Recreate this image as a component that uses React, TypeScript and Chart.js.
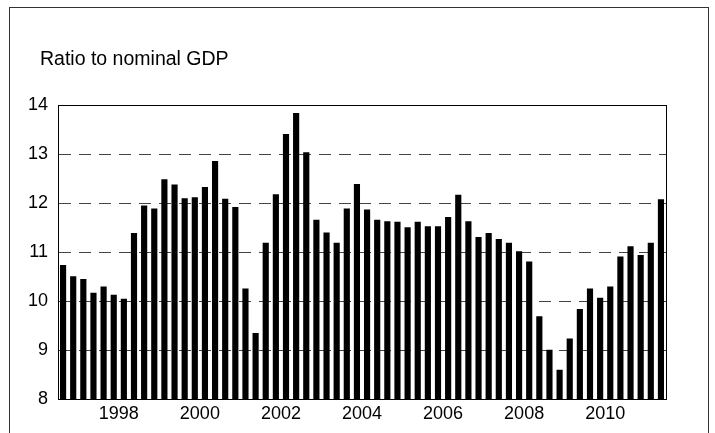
import React, { useEffect, useRef } from "react";
import { Chart, registerables } from "chart.js";

Chart.register(...registerables);

// Quarterly data, 1997Q1 .. 2011Q4
const startYear = 1997;
const values: number[] = [
  10.73, 10.5, 10.44, 10.16, 10.29, 10.12, 10.04, 11.38,
  11.94, 11.88, 12.48, 12.37, 12.09, 12.11, 12.32, 12.85,
  12.08, 11.91, 10.25, 9.34, 11.18, 12.17, 13.4, 13.83,
  13.03, 11.65, 11.39, 11.18, 11.88, 12.38, 11.86, 11.65,
  11.62, 11.61, 11.5, 11.61, 11.52, 11.52, 11.71, 12.16,
  11.62, 11.3, 11.38, 11.26, 11.18, 11.01, 10.8, 9.68,
  9.0, 8.59, 9.23, 9.83, 10.25, 10.06, 10.29, 10.9,
  11.11, 10.93, 11.18, 12.07,
];
const yearLabels: number[] = [1998, 2000, 2002, 2004, 2006, 2008, 2010];
const yTicks: number[] = [8, 9, 10, 11, 12, 13, 14];
const yAxisTitle = "Ratio to nominal GDP";

const FONT = "'Liberation Sans', Arial, sans-serif";

export default function App() {
  const ref = useRef<HTMLCanvasElement | null>(null);

  useEffect(() => {
    if (!ref.current) return;
    const framePlugin = {
      id: "frame",
      afterDatasetsDraw(chart: any) {
        const { ctx, chartArea } = chart;
        ctx.save();
        ctx.strokeStyle = "#000";
        ctx.lineWidth = 1;
        ctx.strokeRect(
          Math.round(chartArea.left) + 0.5,
          Math.round(chartArea.top) + 0.5,
          Math.round(chartArea.right - chartArea.left),
          Math.round(chartArea.bottom - chartArea.top)
        );
        ctx.restore();
      },
    };
    const chart = new Chart(ref.current, {
      type: "bar",
      data: {
        datasets: [
          {
            data: values.map((v, i) => ({ x: i, y: v })),
            backgroundColor: "#000",
            borderWidth: 0,
            barThickness: 5.5,
          },
        ],
      },
      options: {
        animation: false,
        responsive: false,
        maintainAspectRatio: false,
        layout: { padding: { top: 105, right: 49, left: 0, bottom: 0 } },
        plugins: {
          legend: { display: false },
          tooltip: { enabled: false },
          title: { display: false },
        },
        scales: {
          x: {
            type: "linear",
            offset: false,
            min: -0.5,
            max: values.length - 0.5,
            grid: { display: false, drawTicks: false, offset: false },
            border: { display: true, color: "#000" },
            afterBuildTicks: (s: any) => {
              s.ticks = yearLabels.map((y) => ({
                value: (y - startYear) * 4 + 1.5,
              }));
            },
            afterFit: (s: any) => {
              s.height = 34;
            },
            ticks: {
              autoSkip: false,
              maxRotation: 0,
              padding: 4,
              color: "#000",
              font: { family: FONT, size: 18 },
              callback: (v: any) =>
                String(Math.round(startYear + (Number(v) - 1.5) / 4)),
            },
          },
          y: {
            type: "linear",
            min: 8,
            max: 14,
            afterBuildTicks: (s: any) => {
              s.ticks = yTicks.map((v) => ({ value: v }));
            },
            afterFit: (s: any) => {
              s.width = 58;
            },
            grid: {
              color: "#444",
              lineWidth: 1,
              drawTicks: false,
            },
            border: { display: true, color: "#000", dash: [12, 8] },
            ticks: {
              padding: 10,
              color: "#000",
              font: { family: FONT, size: 18 },
            },
          },
        },
      },
      plugins: [framePlugin],
    } as any);
    return () => chart.destroy();
  }, []);

  return (
    <div
      style={{
        position: "fixed",
        left: 0,
        top: 0,
        width: 715,
        height: 433,
        overflow: "hidden",
        background: "#fff",
      }}
    >
      <div
        style={{
          position: "absolute",
          left: 9,
          top: 7,
          width: 700,
          height: 500,
          border: "1px solid #333",
          boxSizing: "border-box",
        }}
      />
      <canvas
        ref={ref}
        width={715}
        height={433}
        style={{ position: "absolute", left: 0, top: 0 }}
      />
      <div
        style={{
          position: "absolute",
          left: 40,
          top: 47,
          fontFamily: FONT,
          fontSize: 19.5,
          lineHeight: "22px",
          color: "#000",
          whiteSpace: "nowrap",
        }}
      >
        {yAxisTitle}
      </div>
    </div>
  );
}
